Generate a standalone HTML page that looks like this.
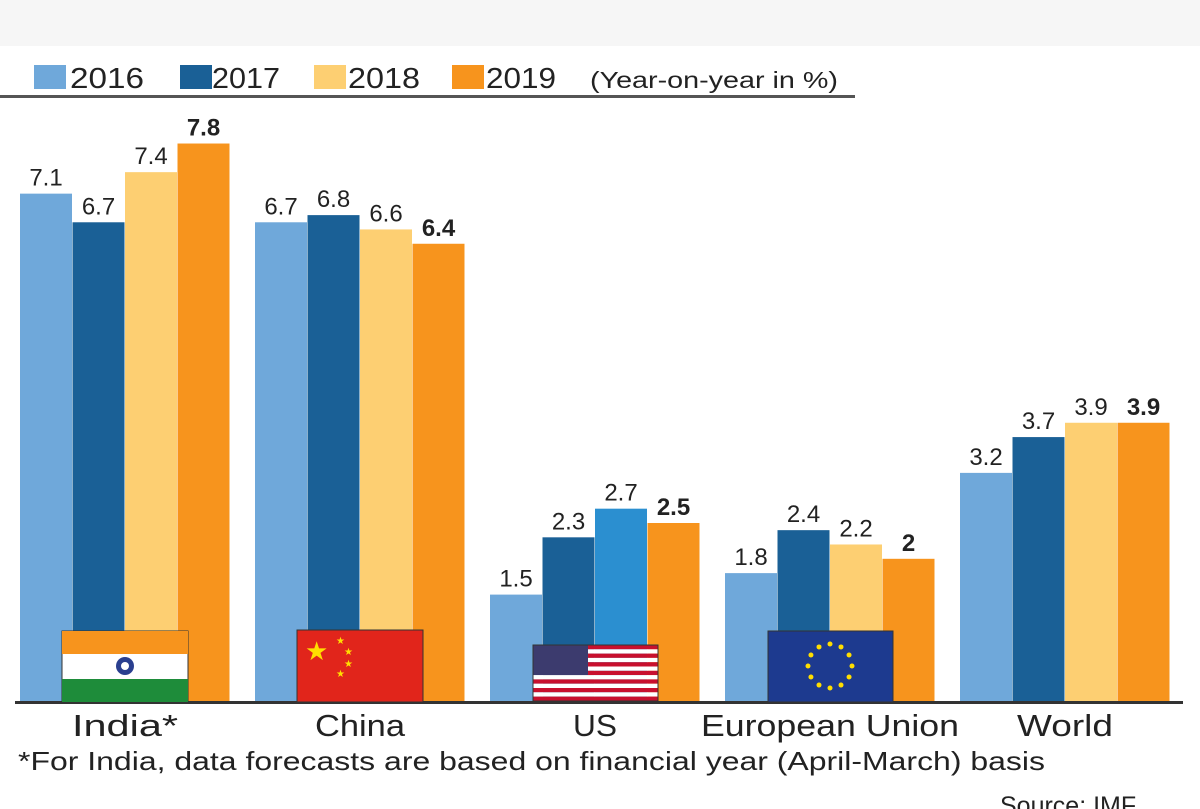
<!DOCTYPE html>
<html><head><meta charset="utf-8"><style>
body{margin:0;background:#fff;font-family:"Liberation Sans",sans-serif}
svg{display:block}
</style></head><body>
<svg width="1200" height="809" viewBox="0 0 1200 809">
<rect x="0" y="0" width="1200" height="46" fill="#f6f6f6"/>
<g font-size="29" fill="#222">
<rect x="34" y="65" width="32" height="24" fill="#6fa8da"/>
<text x="70" y="88" textLength="74" lengthAdjust="spacingAndGlyphs">2016</text>
<rect x="180" y="65" width="32" height="24" fill="#1a6096"/>
<text x="212" y="88" textLength="68" lengthAdjust="spacingAndGlyphs">2017</text>
<rect x="314" y="65" width="32" height="24" fill="#fdcf72"/>
<text x="348" y="88" textLength="72" lengthAdjust="spacingAndGlyphs">2018</text>
<rect x="452" y="65" width="32" height="24" fill="#f7941d"/>
<text x="486" y="88" textLength="70" lengthAdjust="spacingAndGlyphs">2019</text>
<text x="590" y="88" font-size="23" textLength="248" lengthAdjust="spacingAndGlyphs">(Year-on-year in %)</text>
</g>
<rect x="0" y="95" width="855" height="3" fill="#555"/>
<g id="bars"></g>
<rect x="15" y="701" width="1168" height="3" fill="#333"/>
<g>
<g><rect x="62" y="631" width="126" height="71" fill="#fff" stroke="#333" stroke-width="1"/><rect x="62" y="631" width="126" height="23" fill="#f7941d"/><rect x="62" y="679" width="126" height="23" fill="#1e8c3a"/><circle cx="125" cy="666" r="9" fill="#2a3f8f"/><circle cx="125" cy="666" r="4" fill="#fff"/></g>
<g><rect x="297" y="630" width="126" height="72" fill="#e1251b" stroke="#333" stroke-width="1"/><text x="305" y="660" font-size="26" fill="#ffde00">★</text><text x="336" y="644" font-size="10" fill="#ffde00">★</text><text x="344" y="655" font-size="10" fill="#ffde00">★</text><text x="344" y="667" font-size="10" fill="#ffde00">★</text><text x="336" y="677" font-size="10" fill="#ffde00">★</text></g>
<g id="usflag"></g>
<g><rect x="768" y="631" width="125" height="71" fill="#1d3a8f" stroke="#333" stroke-width="1"/><g id="eustars"></g></g>
</g>
<g id="cats" font-size="31" fill="#222" text-anchor="middle"></g>
<text x="18" y="770" font-size="26" textLength="1027" lengthAdjust="spacingAndGlyphs" fill="#222">*For India, data forecasts are based on financial year (April-March) basis</text>
<text x="1000" y="814" font-size="25" fill="#222">Source: IMF</text>
</svg>
<script>
const categories=["India*","China","US","European Union","World"];
const v2016=[7.1,6.7,1.5,1.8,3.2];
const v2017=[6.7,6.8,2.3,2.4,3.7];
const v2018=[7.4,6.6,2.7,2.2,3.9];
const v2019=[7.8,6.4,2.5,2,3.9];
const seriesLabels=["2016","2017","2018","2019"];
const catWidths=[106,90,44,258,96];
const NS="http://www.w3.org/2000/svg";
const base=702, scale=71.6;
const y=v=>base-v*scale;
const gx=i=>20+i*235;
const colors=["#6fa8da","#1a6096","#fdcf72","#f7941d"];
const series=[v2016,v2017,v2018,v2019];
const bars=document.getElementById('bars');
series.forEach((s,si)=>{s.forEach((v,ci)=>{
 const r=document.createElementNS(NS,'rect');
 const x=gx(ci)+si*52.5;
 r.setAttribute('x',x);r.setAttribute('y',y(v));r.setAttribute('width',52);r.setAttribute('height',base-y(v));
 r.setAttribute('fill',(ci===2&&si===2)?"#2b8fd0":colors[si]);
 
 
 bars.appendChild(r);
 const t=document.createElementNS(NS,'text');
 t.setAttribute('x',x+26);t.setAttribute('y',y(v)-8);t.setAttribute('text-anchor','middle');
 t.setAttribute('font-size','24');t.setAttribute('fill','#222');
 if(si===3)t.setAttribute('font-weight','bold');
 t.textContent=String(v);
 
 
 bars.appendChild(t);
});});
const cats=document.getElementById('cats');
categories.forEach((c,i)=>{const t=document.createElementNS(NS,'text');
 t.setAttribute('x',gx(i)+105);t.setAttribute('y',736);t.textContent=c;
 t.setAttribute('textLength',catWidths[i]);
 t.setAttribute('lengthAdjust','spacingAndGlyphs');
 
 
 cats.appendChild(t);});
const us=document.getElementById('usflag');let h='';
for(let k=0;k<13;k++)h+=`<rect x="533" y="${645+k*4.3}" width="125" height="4.3" fill="${k%2?'#fff':'#c8102e'}"/>`;
h+=`<rect x="533" y="645" width="55" height="30" fill="#3c3b6e"/><rect x="533" y="645" width="125" height="56" fill="none" stroke="#333"/>`;
us.innerHTML=h;
const eu=document.getElementById('eustars');let e='';
for(let k=0;k<12;k++){const a=k*Math.PI/6;e+=`<circle cx="${830+22*Math.cos(a)}" cy="${666+22*Math.sin(a)}" r="2.5" fill="#ffde00"/>`;}
eu.innerHTML=e;
</script>
</body></html>
